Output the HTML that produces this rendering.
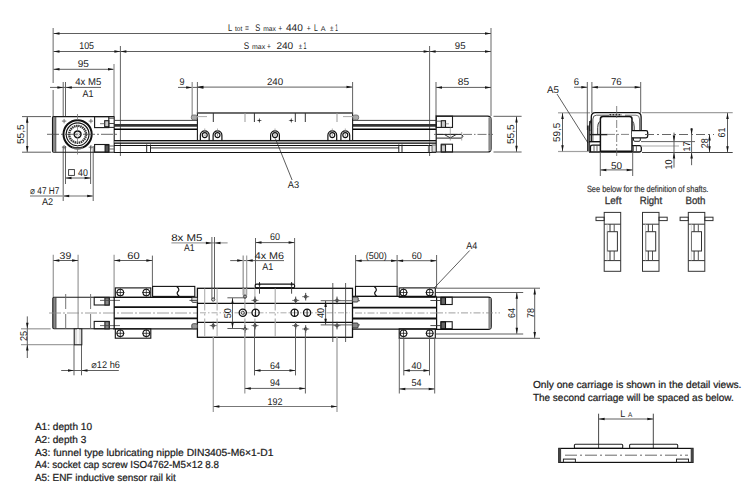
<!DOCTYPE html>
<html><head><meta charset="utf-8"><style>
html,body{margin:0;padding:0;background:#fff;}
svg{display:block;text-rendering:geometricPrecision;}
</style></head><body>
<svg width="750" height="491" viewBox="0 0 750 491" font-family="Liberation Sans, sans-serif">
<rect width="750" height="491" fill="#fff"/>
<line x1="53.2" y1="28" x2="53.2" y2="83" stroke="#a0a0a0" stroke-width="1.6"/>
<line x1="53.2" y1="90" x2="53.2" y2="117" stroke="#a0a0a0" stroke-width="1.6"/>
<line x1="491" y1="28" x2="491" y2="116" stroke="#a0a0a0" stroke-width="1.6"/>
<line x1="53.5" y1="33.5" x2="491" y2="33.5" stroke="#5e5e5e" stroke-width="1"/>
<polygon points="53.5,33.5 59.5,32.25 59.5,34.75" fill="#161616"/>
<polygon points="491,33.5 485,32.25 485,34.75" fill="#161616"/>
<line x1="53.5" y1="51.5" x2="120.4" y2="51.5" stroke="#5e5e5e" stroke-width="1"/>
<polygon points="53.5,51.5 59.5,50.25 59.5,52.75" fill="#161616"/>
<polygon points="120.4,51.5 114.4,50.25 114.4,52.75" fill="#161616"/>
<line x1="120.4" y1="51.5" x2="429.6" y2="51.5" stroke="#5e5e5e" stroke-width="1"/>
<polygon points="120.4,51.5 126.4,50.25 126.4,52.75" fill="#161616"/>
<polygon points="429.6,51.5 423.6,50.25 423.6,52.75" fill="#161616"/>
<line x1="429.6" y1="51.5" x2="491" y2="51.5" stroke="#5e5e5e" stroke-width="1"/>
<polygon points="429.6,51.5 435.6,50.25 435.6,52.75" fill="#161616"/>
<polygon points="491,51.5 485,50.25 485,52.75" fill="#161616"/>
<line x1="120.4" y1="46" x2="120.4" y2="156" stroke="#5a5a5a" stroke-width="0.95"/>
<line x1="429.6" y1="46" x2="429.6" y2="156" stroke="#5a5a5a" stroke-width="0.95"/>
<line x1="53.5" y1="69.3" x2="114" y2="69.3" stroke="#5e5e5e" stroke-width="1"/>
<polygon points="53.5,69.3 59.5,68.05 59.5,70.55" fill="#161616"/>
<polygon points="114,69.3 108,68.05 108,70.55" fill="#161616"/>
<line x1="114" y1="64" x2="114" y2="117" stroke="#a0a0a0" stroke-width="1.4"/>
<line x1="436" y1="87.4" x2="491" y2="87.4" stroke="#5e5e5e" stroke-width="1"/>
<polygon points="436,87.4 442,86.15 442,88.65" fill="#161616"/>
<polygon points="491,87.4 485,86.15 485,88.65" fill="#161616"/>
<line x1="436" y1="82" x2="436" y2="116" stroke="#5a5a5a" stroke-width="0.95"/>
<line x1="50" y1="87.4" x2="101" y2="87.4" stroke="#5e5e5e" stroke-width="1"/>
<polygon points="63.4,87.4 57.4,86.15 57.4,88.65" fill="#161616"/>
<polygon points="65.8,87.4 71.8,86.15 71.8,88.65" fill="#161616"/>
<line x1="63.2" y1="82" x2="63.2" y2="116" stroke="#5a5a5a" stroke-width="0.95"/>
<line x1="65.5" y1="82" x2="65.5" y2="116" stroke="#5a5a5a" stroke-width="0.95"/>
<line x1="63.2" y1="146" x2="63.2" y2="201" stroke="#5a5a5a" stroke-width="0.95"/>
<line x1="65.5" y1="146" x2="65.5" y2="184" stroke="#5a5a5a" stroke-width="0.95"/>
<line x1="90.6" y1="146" x2="90.6" y2="184" stroke="#5a5a5a" stroke-width="0.95"/>
<line x1="93.2" y1="146" x2="93.2" y2="201" stroke="#5a5a5a" stroke-width="0.95"/>
<line x1="178" y1="87.4" x2="203" y2="87.4" stroke="#5e5e5e" stroke-width="1"/>
<polygon points="192.2,87.4 186.2,86.15 186.2,88.65" fill="#161616"/>
<polygon points="197.4,87.4 203.4,86.15 203.4,88.65" fill="#161616"/>
<line x1="192.2" y1="82" x2="192.2" y2="116" stroke="#a0a0a0" stroke-width="1.4"/>
<line x1="197.4" y1="82" x2="197.4" y2="113" stroke="#5a5a5a" stroke-width="0.95"/>
<line x1="197.4" y1="87.1" x2="352.5" y2="87.1" stroke="#5e5e5e" stroke-width="1"/>
<polygon points="197.4,87.1 203.4,85.85 203.4,88.35" fill="#161616"/>
<polygon points="352.5,87.1 346.5,85.85 346.5,88.35" fill="#161616"/>
<line x1="352.6" y1="82" x2="352.6" y2="113" stroke="#5a5a5a" stroke-width="0.95"/>
<line x1="65.5" y1="178" x2="90.6" y2="178" stroke="#5e5e5e" stroke-width="1"/>
<polygon points="65.5,178 71.5,176.75 71.5,179.25" fill="#161616"/>
<polygon points="90.6,178 84.6,176.75 84.6,179.25" fill="#161616"/>
<line x1="30" y1="196" x2="93.2" y2="196" stroke="#a0a0a0" stroke-width="1.3"/>
<polygon points="63.2,196 69.2,194.75 69.2,197.25" fill="#161616"/>
<polygon points="93.2,196 87.2,194.75 87.2,197.25" fill="#161616"/>
<line x1="22" y1="116.6" x2="51" y2="116.6" stroke="#5e5e5e" stroke-width="1"/>
<line x1="22" y1="152.2" x2="51" y2="152.2" stroke="#5e5e5e" stroke-width="1"/>
<line x1="27.2" y1="116.8" x2="27.2" y2="152" stroke="#5e5e5e" stroke-width="1"/>
<polygon points="27.2,116.8 25.95,122.8 28.45,122.8" fill="#161616"/>
<polygon points="27.2,152 25.95,146 28.45,146" fill="#161616"/>
<line x1="493.5" y1="116.3" x2="521.6" y2="116.3" stroke="#5e5e5e" stroke-width="1"/>
<line x1="493.5" y1="152" x2="521.6" y2="152" stroke="#5e5e5e" stroke-width="1"/>
<line x1="516.5" y1="116.5" x2="516.5" y2="151.8" stroke="#5e5e5e" stroke-width="1"/>
<polygon points="516.5,116.5 515.25,122.5 517.75,122.5" fill="#161616"/>
<polygon points="516.5,151.8 515.25,145.8 517.75,145.8" fill="#161616"/>
<rect x="52.6" y="117.2" width="3.1" height="34.4" fill="#8a8a8a"/>
<path d="M114.2,116.6 H53.6 Q52.5,116.6 52.5,117.7 V151.1 Q52.5,152.2 53.6,152.2 H114.2 V116.6" stroke="#1a1a1a" stroke-width="1.1" fill="none"/>
<line x1="55.8" y1="116.6" x2="55.8" y2="152.2" stroke="#333" stroke-width="0.8"/>
<circle cx="77.6" cy="134.3" r="14.1" stroke="#111" stroke-width="2.0" fill="none"/>
<circle cx="77.6" cy="134.3" r="11.4" stroke="#111" stroke-width="1.1" fill="none"/>
<circle cx="77.6" cy="134.3" r="3.4" stroke="#111" stroke-width="1.5" fill="none"/>
<circle cx="77.6" cy="134.3" r="1.6" stroke="#aaa" stroke-width="0.6" fill="none"/>
<circle cx="77.6" cy="134.3" r="8.4" stroke="#333" stroke-width="2.4" fill="none" stroke-dasharray="1.5 0.6"/>
<rect x="72.5" y="147.2" width="10" height="1.2" fill="#fff"/>
<line x1="72.5" y1="147.6" x2="82.5" y2="147.6" stroke="#222" stroke-width="1"/>
<line x1="47" y1="134.3" x2="117" y2="134.3" stroke="#444" stroke-width="0.8" stroke-dasharray="12 2 2 2"/>
<line x1="77.5" y1="114" x2="77.5" y2="155" stroke="#777" stroke-width="0.8" stroke-dasharray="6 2 1.5 2"/>
<line x1="61.89999999999999" y1="121.1" x2="66.3" y2="121.1" stroke="#555" stroke-width="0.8"/>
<line x1="64.1" y1="118.89999999999999" x2="64.1" y2="123.3" stroke="#555" stroke-width="0.8"/>
<line x1="88.7" y1="121.1" x2="93.10000000000001" y2="121.1" stroke="#555" stroke-width="0.8"/>
<line x1="90.9" y1="118.89999999999999" x2="90.9" y2="123.3" stroke="#555" stroke-width="0.8"/>
<line x1="61.89999999999999" y1="147.2" x2="66.3" y2="147.2" stroke="#555" stroke-width="0.8"/>
<line x1="64.1" y1="145.0" x2="64.1" y2="149.39999999999998" stroke="#555" stroke-width="0.8"/>
<line x1="88.7" y1="147.2" x2="93.10000000000001" y2="147.2" stroke="#555" stroke-width="0.8"/>
<line x1="90.9" y1="145.0" x2="90.9" y2="149.39999999999998" stroke="#555" stroke-width="0.8"/>
<rect x="94.6" y="116.6" width="14.2" height="11" stroke="#1a1a1a" stroke-width="1.1" fill="none"/>
<rect x="104.7" y="120.7" width="4.1" height="6" stroke="#1a1a1a" stroke-width="1.1" fill="#ccc"/>
<line x1="108.8" y1="118.2" x2="114" y2="118.2" stroke="#333" stroke-width="0.9"/>
<line x1="108.8" y1="123.5" x2="114" y2="123.5" stroke="#333" stroke-width="0.9"/>
<line x1="108.8" y1="127.4" x2="114" y2="127.4" stroke="#222" stroke-width="1"/>
<line x1="100" y1="123.7" x2="104.7" y2="123.7" stroke="#555" stroke-width="0.8"/>
<rect x="94.6" y="144.5" width="14.2" height="7.6" stroke="#1a1a1a" stroke-width="1.1" fill="none"/>
<rect x="105.1" y="145" width="3.7" height="7" stroke="#1a1a1a" stroke-width="1.1" fill="#555"/>
<line x1="108.8" y1="146" x2="114" y2="146" stroke="#555" stroke-width="0.9"/>
<line x1="108.8" y1="149" x2="114" y2="149" stroke="#555" stroke-width="0.9"/>
<line x1="114" y1="120.4" x2="197.3" y2="120.4" stroke="#444" stroke-width="1"/>
<line x1="114" y1="125.4" x2="197.3" y2="125.4" stroke="#333" stroke-width="2.6"/>
<line x1="114" y1="129.3" x2="197.3" y2="129.3" stroke="#000" stroke-width="1.4"/>
<line x1="352.7" y1="120.4" x2="436" y2="120.4" stroke="#444" stroke-width="1"/>
<line x1="352.7" y1="125.4" x2="436" y2="125.4" stroke="#333" stroke-width="2.6"/>
<line x1="352.7" y1="129.3" x2="436" y2="129.3" stroke="#000" stroke-width="1.4"/>
<line x1="114" y1="140.5" x2="436" y2="140.5" stroke="#111" stroke-width="1"/>
<line x1="114" y1="141.9" x2="436" y2="141.9" stroke="#888" stroke-width="1.5"/>
<line x1="114" y1="143.3" x2="436" y2="143.3" stroke="#111" stroke-width="1"/>
<line x1="114" y1="145.5" x2="436" y2="145.5" stroke="#111" stroke-width="1"/>
<line x1="150.5" y1="147.9" x2="399" y2="147.9" stroke="#888" stroke-width="1.8"/>
<line x1="114" y1="152.5" x2="436" y2="152.5" stroke="#111" stroke-width="1.1"/>
<line x1="146.7" y1="144.5" x2="146.7" y2="152.3" stroke="#222" stroke-width="1"/>
<line x1="150.5" y1="144.5" x2="150.5" y2="152.3" stroke="#222" stroke-width="1"/>
<line x1="398.8" y1="144.5" x2="398.8" y2="152.3" stroke="#222" stroke-width="1"/>
<line x1="402" y1="144.5" x2="402" y2="152.3" stroke="#222" stroke-width="1"/>
<rect x="197.4" y="113" width="155.2" height="27.5" fill="#fff"/>
<rect x="197.4" y="113" width="155.2" height="27.5" stroke="#1a1a1a" stroke-width="1.1" fill="none"/>
<line x1="197.4" y1="112.9" x2="352.6" y2="112.9" stroke="#6a6a6a" stroke-width="1.6"/>
<line x1="213.3" y1="113" x2="213.3" y2="122" stroke="#333" stroke-width="1"/>
<line x1="245" y1="113" x2="245" y2="122" stroke="#999" stroke-width="1"/>
<line x1="254.4" y1="113" x2="254.4" y2="122" stroke="#333" stroke-width="1"/>
<line x1="295.3" y1="113" x2="295.3" y2="122" stroke="#333" stroke-width="1"/>
<line x1="305.3" y1="113" x2="305.3" y2="122" stroke="#333" stroke-width="1"/>
<line x1="337" y1="113" x2="337" y2="122" stroke="#999" stroke-width="1"/>
<path d="M259.3,117.7 L259.85,119.95 L262.1,120.5 L259.85,121.05 L259.3,123.3 L258.75,121.05 L256.5,120.5 L258.75,119.95 Z" fill="#222"/>
<path d="M291.2,117.7 L291.75,119.95 L294.0,120.5 L291.75,121.05 L291.2,123.3 L290.65,121.05 L288.4,120.5 L290.65,119.95 Z" fill="#222"/>
<rect x="191.3" y="115" width="6" height="4.8" stroke="#666" stroke-width="0.8" fill="#aaa" rx="2"/>
<rect x="352.7" y="115" width="6" height="4.8" stroke="#666" stroke-width="0.8" fill="#aaa" rx="2"/>
<line x1="197" y1="116.6" x2="207" y2="116.6" stroke="#aaa" stroke-width="1"/>
<line x1="343" y1="116.6" x2="353" y2="116.6" stroke="#aaa" stroke-width="1"/>
<path d="M200.35,141 V135.2 A4.4,4.4 0 0 1 209.15,135.2 V141" stroke="#111" stroke-width="1.2" fill="none"/>
<circle cx="204.75" cy="135.1" r="2.5" stroke="#111" stroke-width="1.15" fill="none"/>
<line x1="203.45" y1="135.1" x2="206.05" y2="135.1" stroke="#777" stroke-width="0.8"/>
<line x1="204.75" y1="128.5" x2="204.75" y2="130.6" stroke="#999" stroke-width="0.8"/>
<path d="M213.1,141 V135.2 A4.4,4.4 0 0 1 221.9,135.2 V141" stroke="#111" stroke-width="1.2" fill="none"/>
<circle cx="217.5" cy="135.1" r="2.5" stroke="#111" stroke-width="1.15" fill="none"/>
<line x1="217.5" y1="133.8" x2="217.5" y2="136.4" stroke="#777" stroke-width="0.8"/>
<line x1="217.5" y1="128.5" x2="217.5" y2="130.6" stroke="#999" stroke-width="0.8"/>
<path d="M270.6,141 V135.2 A4.4,4.4 0 0 1 279.4,135.2 V141" stroke="#111" stroke-width="1.2" fill="none"/>
<circle cx="275" cy="135.1" r="2.5" stroke="#111" stroke-width="1.15" fill="none"/>
<line x1="275" y1="133.8" x2="275" y2="136.4" stroke="#777" stroke-width="0.8"/>
<line x1="275" y1="128.5" x2="275" y2="130.6" stroke="#999" stroke-width="0.8"/>
<path d="M327.90000000000003,141 V135.2 A4.4,4.4 0 0 1 336.7,135.2 V141" stroke="#111" stroke-width="1.2" fill="none"/>
<circle cx="332.3" cy="135.1" r="2.5" stroke="#111" stroke-width="1.15" fill="none"/>
<line x1="332.3" y1="133.8" x2="332.3" y2="136.4" stroke="#777" stroke-width="0.8"/>
<line x1="332.3" y1="128.5" x2="332.3" y2="130.6" stroke="#999" stroke-width="0.8"/>
<path d="M340.90000000000003,141 V135.2 A4.4,4.4 0 0 1 349.7,135.2 V141" stroke="#111" stroke-width="1.2" fill="none"/>
<circle cx="345.3" cy="135.1" r="2.5" stroke="#111" stroke-width="1.15" fill="none"/>
<line x1="345.3" y1="133.8" x2="345.3" y2="136.4" stroke="#777" stroke-width="0.8"/>
<line x1="345.3" y1="128.5" x2="345.3" y2="130.6" stroke="#999" stroke-width="0.8"/>
<line x1="275.4" y1="138.6" x2="292.1" y2="180" stroke="#333" stroke-width="0.8"/>
<path d="M436.2,116.2 H487.5 Q491.1,116.2 491.1,119.8 V148.4 Q491.1,152 487.5,152 H436.2 Z" stroke="#1a1a1a" stroke-width="1.2" fill="none"/>
<rect x="488.4" y="117.5" width="2.8" height="33.2" fill="#8a8a8a"/>
<rect x="436.2" y="116.2" width="16.3" height="11.2" stroke="#1a1a1a" stroke-width="1.1" fill="none"/>
<rect x="441.3" y="120.7" width="4.2" height="6.7" stroke="#222" stroke-width="1.1" fill="#ccc"/>
<line x1="436.2" y1="121.2" x2="441.3" y2="121.2" stroke="#444" stroke-width="0.8"/>
<line x1="445.5" y1="123.8" x2="449" y2="123.8" stroke="#777" stroke-width="0.7"/>
<rect x="441.3" y="144.2" width="11.2" height="7.8" stroke="#1a1a1a" stroke-width="1.1" fill="none"/>
<rect x="441.3" y="144.8" width="4.2" height="7" stroke="#222" stroke-width="1.1" fill="#ccc"/>
<line x1="434" y1="134.4" x2="493" y2="134.4" stroke="#555" stroke-width="0.8" stroke-dasharray="9 2 1.5 2"/>
<path d="M436.2,134.4 H461.5 L463,136.2 L461.5,138.1 H436.2" stroke="#222" stroke-width="1" fill="none"/>
<path d="M444.5,134.6 L450.3,137.9 L456,134.6" stroke="#333" stroke-width="1" fill="none"/>
<line x1="450.3" y1="127.4" x2="450.3" y2="140.5" stroke="#888" stroke-width="0.7"/>
<line x1="461.7" y1="132" x2="461.7" y2="140.5" stroke="#888" stroke-width="0.7"/>
<line x1="428.4" y1="145" x2="428.4" y2="152.3" stroke="#444" stroke-width="0.8"/>
<rect x="432" y="145" width="4" height="7" stroke="#444" stroke-width="0.8" fill="#ddd"/>
<line x1="558" y1="112.8" x2="590" y2="112.8" stroke="#a0a0a0" stroke-width="1.2"/>
<line x1="642" y1="112.7" x2="732.7" y2="112.7" stroke="#a0a0a0" stroke-width="1.2"/>
<line x1="558" y1="151.5" x2="589" y2="151.5" stroke="#a0a0a0" stroke-width="1.2"/>
<line x1="642" y1="152.5" x2="732.7" y2="152.5" stroke="#444" stroke-width="1"/>
<line x1="562.5" y1="113" x2="562.5" y2="151.3" stroke="#5e5e5e" stroke-width="1"/>
<polygon points="562.5,113 561.25,119 563.75,119" fill="#161616"/>
<polygon points="562.5,151.3 561.25,145.3 563.75,145.3" fill="#161616"/>
<line x1="574" y1="87.2" x2="587.3" y2="87.2" stroke="#5e5e5e" stroke-width="1"/>
<polygon points="587.3,87.2 581.3,85.95 581.3,88.45" fill="#161616"/>
<line x1="587.3" y1="82" x2="587.3" y2="130" stroke="#5a5a5a" stroke-width="0.95"/>
<line x1="591.9" y1="82" x2="591.9" y2="113" stroke="#5a5a5a" stroke-width="0.95"/>
<line x1="591.9" y1="87.2" x2="640.7" y2="87.2" stroke="#5e5e5e" stroke-width="1"/>
<polygon points="591.9,87.2 597.9,85.95 597.9,88.45" fill="#161616"/>
<polygon points="640.7,87.2 634.7,85.95 634.7,88.45" fill="#161616"/>
<line x1="640.7" y1="82" x2="640.7" y2="113" stroke="#5a5a5a" stroke-width="0.95"/>
<line x1="557" y1="94" x2="588" y2="143" stroke="#333" stroke-width="0.8"/>
<path d="M591.3,141.3 V117 Q591.3,112.7 595.5,112.7 H637 Q641.1,112.7 641.1,117 V130.5" stroke="#111" stroke-width="1.3" fill="none"/>
<path d="M592.9,141 V119 Q592.9,115.2 596.5,115.2 H609" stroke="#444" stroke-width="0.9" fill="none"/>
<path d="M639.5,130.5 V119 Q639.5,115.2 636,115.2 H625" stroke="#666" stroke-width="0.9" fill="none"/>
<line x1="587.9" y1="125.6" x2="587.9" y2="151" stroke="#111" stroke-width="1.5"/>
<line x1="589.6" y1="121" x2="589.6" y2="151" stroke="#333" stroke-width="1"/>
<path d="M589.8,131 Q588.8,125 591.3,120" stroke="#222" stroke-width="1.2" fill="none"/>
<line x1="609.4" y1="114.8" x2="621.7" y2="114.8" stroke="#333" stroke-width="1.6" stroke-dasharray="2 1"/>
<path d="M600.4,151.3 V119 Q600.4,116.6 603,116.6 H629.5 Q632,116.6 632,119 V151.3 Z" stroke="#111" stroke-width="1.5" fill="#fff"/>
<path d="M599.5,121.5 Q597.7,123.5 597.7,127.5 V134" stroke="#333" stroke-width="1" fill="none"/>
<path d="M632.5,121 Q634.2,123 634.2,127 V133" stroke="#333" stroke-width="1" fill="none"/>
<path d="M632,130.7 H646 Q647.7,130.7 647.7,132.5 V136 Q647.7,137.8 646,137.8 H632" stroke="#111" stroke-width="1.3" fill="#fff"/>
<path d="M633.5,137.8 V140 Q633.5,141.3 635,141.3 H639 Q640.3,141.3 640.3,140 V137.8" stroke="#222" stroke-width="1" fill="none"/>
<line x1="589" y1="141.7" x2="600.4" y2="141.7" stroke="#111" stroke-width="1.4"/>
<path d="M590.5,152 V147 Q590.5,145.2 592.5,145.2 H600.4" stroke="#111" stroke-width="1.2" fill="none"/>
<path d="M632,145.7 H639.5 Q641.3,145.7 641.3,147.5 V150.3 Q641.3,152 639.5,152 H589" stroke="#111" stroke-width="1.3" fill="none"/>
<line x1="633.5" y1="145.7" x2="633.5" y2="152" stroke="#444" stroke-width="0.8"/>
<line x1="636.4" y1="145.7" x2="636.4" y2="152" stroke="#444" stroke-width="0.8"/>
<line x1="594" y1="145.2" x2="594" y2="152" stroke="#444" stroke-width="0.8"/>
<line x1="597" y1="145.2" x2="597" y2="152" stroke="#444" stroke-width="0.8"/>
<line x1="616.7" y1="106" x2="616.7" y2="158" stroke="#666" stroke-width="0.8" stroke-dasharray="8 2 2 2"/>
<line x1="589.4" y1="134.6" x2="607.4" y2="134.6" stroke="#222" stroke-width="1.4"/>
<line x1="607" y1="134.4" x2="632" y2="134.4" stroke="#666" stroke-width="0.8" stroke-dasharray="8 2 2 2"/>
<line x1="645" y1="134.5" x2="714" y2="134.5" stroke="#555" stroke-width="0.9" stroke-dasharray="9 3 2 3"/>
<line x1="641" y1="141.6" x2="695" y2="141.6" stroke="#5a5a5a" stroke-width="0.95"/>
<line x1="641" y1="146" x2="679" y2="146" stroke="#aaa" stroke-width="1.2"/>
<line x1="600.3" y1="152" x2="600.3" y2="176" stroke="#5a5a5a" stroke-width="0.95"/>
<line x1="632.7" y1="152" x2="632.7" y2="176" stroke="#5a5a5a" stroke-width="0.95"/>
<line x1="600.3" y1="169.9" x2="632.7" y2="169.9" stroke="#5e5e5e" stroke-width="1"/>
<polygon points="600.3,169.9 606.3,168.65 606.3,171.15" fill="#161616"/>
<polygon points="632.7,169.9 626.7,168.65 626.7,171.15" fill="#161616"/>
<line x1="674" y1="132.6" x2="674" y2="167.6" stroke="#5e5e5e" stroke-width="1"/>
<polygon points="674,141.6 672.75,135.6 675.25,135.6" fill="#161616"/>
<polygon points="674,152.5 672.75,158.5 675.25,158.5" fill="#161616"/>
<line x1="691.6" y1="128" x2="691.6" y2="165.2" stroke="#5e5e5e" stroke-width="1"/>
<polygon points="691.6,134.5 690.35,128.5 692.85,128.5" fill="#161616"/>
<polygon points="691.6,152.5 690.35,158.5 692.85,158.5" fill="#161616"/>
<line x1="709.5" y1="134.5" x2="709.5" y2="152.3" stroke="#5e5e5e" stroke-width="1"/>
<polygon points="709.5,134.5 708.25,140.5 710.75,140.5" fill="#161616"/>
<polygon points="709.5,152.3 708.25,146.3 710.75,146.3" fill="#161616"/>
<line x1="727.5" y1="112.9" x2="727.5" y2="152.3" stroke="#5e5e5e" stroke-width="1"/>
<polygon points="727.5,112.9 726.25,118.9 728.75,118.9" fill="#161616"/>
<polygon points="727.5,152.3 726.25,146.3 728.75,146.3" fill="#161616"/>
<rect x="604.2" y="212.4" width="16.5" height="58.9" stroke="#333" stroke-width="1" fill="none"/>
<line x1="604.2" y1="224.2" x2="620.7" y2="224.2" stroke="#333" stroke-width="1"/>
<line x1="604.2" y1="260.6" x2="620.7" y2="260.6" stroke="#333" stroke-width="1"/>
<line x1="610.0" y1="224.2" x2="610.0" y2="231.7" stroke="#333" stroke-width="1"/>
<line x1="614.2" y1="224.2" x2="614.2" y2="231.7" stroke="#555" stroke-width="1"/>
<line x1="610.0" y1="251" x2="610.0" y2="260.6" stroke="#333" stroke-width="1"/>
<line x1="614.2" y1="251" x2="614.2" y2="260.6" stroke="#555" stroke-width="1"/>
<rect x="607.4000000000001" y="231.7" width="10" height="19.3" stroke="#333" stroke-width="1" fill="none"/>
<line x1="607.2" y1="224" x2="607.2" y2="260.6" stroke="#bbb" stroke-width="0.6"/>
<rect x="596.0" y="217.2" width="8.2" height="3.4" stroke="#333" stroke-width="1" fill="none"/>
<rect x="642.5" y="212.4" width="16.5" height="58.9" stroke="#333" stroke-width="1" fill="none"/>
<line x1="642.5" y1="224.2" x2="659.0" y2="224.2" stroke="#333" stroke-width="1"/>
<line x1="642.5" y1="260.6" x2="659.0" y2="260.6" stroke="#333" stroke-width="1"/>
<line x1="648.3" y1="224.2" x2="648.3" y2="231.7" stroke="#333" stroke-width="1"/>
<line x1="652.5" y1="224.2" x2="652.5" y2="231.7" stroke="#555" stroke-width="1"/>
<line x1="648.3" y1="251" x2="648.3" y2="260.6" stroke="#333" stroke-width="1"/>
<line x1="652.5" y1="251" x2="652.5" y2="260.6" stroke="#555" stroke-width="1"/>
<rect x="645.7" y="231.7" width="10" height="19.3" stroke="#333" stroke-width="1" fill="none"/>
<line x1="645.5" y1="224" x2="645.5" y2="260.6" stroke="#bbb" stroke-width="0.6"/>
<rect x="659.0" y="217.2" width="8.2" height="3.4" stroke="#333" stroke-width="1" fill="none"/>
<rect x="688.3" y="212.4" width="16.5" height="58.9" stroke="#333" stroke-width="1" fill="none"/>
<line x1="688.3" y1="224.2" x2="704.8" y2="224.2" stroke="#333" stroke-width="1"/>
<line x1="688.3" y1="260.6" x2="704.8" y2="260.6" stroke="#333" stroke-width="1"/>
<line x1="694.0999999999999" y1="224.2" x2="694.0999999999999" y2="231.7" stroke="#333" stroke-width="1"/>
<line x1="698.3" y1="224.2" x2="698.3" y2="231.7" stroke="#555" stroke-width="1"/>
<line x1="694.0999999999999" y1="251" x2="694.0999999999999" y2="260.6" stroke="#333" stroke-width="1"/>
<line x1="698.3" y1="251" x2="698.3" y2="260.6" stroke="#555" stroke-width="1"/>
<rect x="691.5" y="231.7" width="10" height="19.3" stroke="#333" stroke-width="1" fill="none"/>
<line x1="691.3" y1="224" x2="691.3" y2="260.6" stroke="#bbb" stroke-width="0.6"/>
<rect x="680.0999999999999" y="217.2" width="8.2" height="3.4" stroke="#333" stroke-width="1" fill="none"/>
<rect x="704.8" y="217.2" width="8.2" height="3.4" stroke="#333" stroke-width="1" fill="none"/>
<line x1="53.3" y1="254.7" x2="53.3" y2="297" stroke="#a0a0a0" stroke-width="1.3"/>
<line x1="78.1" y1="254.7" x2="78.1" y2="345" stroke="#a0a0a0" stroke-width="1.3"/>
<line x1="53.3" y1="260.5" x2="78.1" y2="260.5" stroke="#5e5e5e" stroke-width="1"/>
<polygon points="53.3,260.5 59.3,259.25 59.3,261.75" fill="#161616"/>
<polygon points="78.1,260.5 72.1,259.25 72.1,261.75" fill="#161616"/>
<line x1="114.1" y1="254.7" x2="114.1" y2="297" stroke="#a0a0a0" stroke-width="1.3"/>
<line x1="152.4" y1="255.6" x2="152.4" y2="286" stroke="#5a5a5a" stroke-width="0.95"/>
<line x1="114.1" y1="260.5" x2="152.4" y2="260.5" stroke="#5e5e5e" stroke-width="1"/>
<polygon points="114.1,260.5 120.1,259.25 120.1,261.75" fill="#161616"/>
<polygon points="152.4,260.5 146.4,259.25 146.4,261.75" fill="#161616"/>
<line x1="171.4" y1="242.9" x2="227.6" y2="242.9" stroke="#a0a0a0" stroke-width="1.3"/>
<polygon points="211.9,242.9 205.9,241.65 205.9,244.15" fill="#161616"/>
<polygon points="214.5,242.9 220.5,241.65 220.5,244.15" fill="#161616"/>
<line x1="211.9" y1="237" x2="211.9" y2="300" stroke="#5a5a5a" stroke-width="0.95"/>
<line x1="214.5" y1="237" x2="214.5" y2="300" stroke="#5a5a5a" stroke-width="0.95"/>
<line x1="255.5" y1="238" x2="255.5" y2="284" stroke="#5a5a5a" stroke-width="0.95"/>
<line x1="294.6" y1="238" x2="294.6" y2="284" stroke="#5a5a5a" stroke-width="0.95"/>
<line x1="255.5" y1="242.6" x2="294.6" y2="242.6" stroke="#5e5e5e" stroke-width="1"/>
<polygon points="255.5,242.6 261.5,241.35 261.5,243.85" fill="#161616"/>
<polygon points="294.6,242.6 288.6,241.35 288.6,243.85" fill="#161616"/>
<line x1="230.2" y1="260.6" x2="284" y2="260.6" stroke="#5e5e5e" stroke-width="1"/>
<polygon points="243.2,260.6 237.2,259.35 237.2,261.85" fill="#161616"/>
<polygon points="246.7,260.6 252.7,259.35 252.7,261.85" fill="#161616"/>
<line x1="243.2" y1="255.6" x2="243.2" y2="295.5" stroke="#a0a0a0" stroke-width="1.4"/>
<line x1="246.7" y1="255.6" x2="246.7" y2="295.5" stroke="#999" stroke-width="1.1"/>
<line x1="355.6" y1="255" x2="355.6" y2="286.5" stroke="#5a5a5a" stroke-width="0.95"/>
<line x1="397.1" y1="255" x2="397.1" y2="287" stroke="#5a5a5a" stroke-width="0.95"/>
<line x1="436.6" y1="255" x2="436.6" y2="288" stroke="#5a5a5a" stroke-width="0.95"/>
<line x1="355.6" y1="260.7" x2="397.1" y2="260.7" stroke="#5e5e5e" stroke-width="1"/>
<polygon points="355.6,260.7 361.6,259.45 361.6,261.95" fill="#161616"/>
<polygon points="397.1,260.7 391.1,259.45 391.1,261.95" fill="#161616"/>
<line x1="397.1" y1="260.7" x2="436.6" y2="260.7" stroke="#5e5e5e" stroke-width="1"/>
<polygon points="397.1,260.7 403.1,259.45 403.1,261.95" fill="#161616"/>
<polygon points="436.6,260.7 430.6,259.45 430.6,261.95" fill="#161616"/>
<line x1="469.7" y1="250.5" x2="434" y2="288.2" stroke="#333" stroke-width="0.8"/>
<line x1="21" y1="328.8" x2="50.7" y2="328.8" stroke="#a0a0a0" stroke-width="1.3"/>
<line x1="21" y1="344.6" x2="73" y2="344.6" stroke="#a0a0a0" stroke-width="1.3"/>
<line x1="27.3" y1="316.4" x2="27.3" y2="358" stroke="#5e5e5e" stroke-width="1"/>
<polygon points="27.3,328.7 26.05,322.7 28.55,322.7" fill="#161616"/>
<polygon points="27.3,344.5 26.05,350.5 28.55,350.5" fill="#161616"/>
<line x1="61.2" y1="370.5" x2="118.8" y2="370.5" stroke="#5e5e5e" stroke-width="1"/>
<polygon points="74,370.5 68,369.25 68,371.75" fill="#161616"/>
<polygon points="81.5,370.5 87.5,369.25 87.5,371.75" fill="#161616"/>
<line x1="74" y1="344" x2="74" y2="375.3" stroke="#5a5a5a" stroke-width="0.95"/>
<line x1="81.5" y1="344" x2="81.5" y2="375.3" stroke="#5a5a5a" stroke-width="0.95"/>
<rect x="52.9" y="297.9" width="3.1" height="30.2" fill="#8a8a8a"/>
<path d="M114.2,297.3 H53.9 Q52.8,297.3 52.8,298.4 V327.6 Q52.8,328.7 53.9,328.7 H114.2" stroke="#1a1a1a" stroke-width="1.1" fill="none"/>
<line x1="56" y1="297.3" x2="56" y2="328.7" stroke="#333" stroke-width="0.8"/>
<line x1="65.7" y1="294" x2="65.7" y2="332" stroke="#666" stroke-width="0.9" stroke-dasharray="15 5"/>
<line x1="90.6" y1="294" x2="90.6" y2="332" stroke="#666" stroke-width="0.9" stroke-dasharray="15 5"/>
<rect x="94.2" y="297.3" width="15" height="7.7" stroke="#1a1a1a" stroke-width="1.1" fill="none"/>
<rect x="104.9" y="297.8" width="4.3" height="7.2" stroke="#222" stroke-width="1.1" fill="#888"/>
<rect x="94.2" y="321.4" width="15" height="7.4" stroke="#1a1a1a" stroke-width="1.1" fill="none"/>
<rect x="104.9" y="321.6" width="4.3" height="7.2" stroke="#222" stroke-width="1.1" fill="#888"/>
<line x1="100" y1="300.4" x2="120" y2="300.4" stroke="#444" stroke-width="0.8"/>
<line x1="100" y1="325.6" x2="120" y2="325.6" stroke="#444" stroke-width="0.8"/>
<rect x="74.2" y="328.8" width="7.6" height="16" stroke="#222" stroke-width="1.1" fill="#ddd"/>
<line x1="78" y1="329" x2="78" y2="344" stroke="#fff" stroke-width="1.5"/>
<line x1="49" y1="313" x2="200" y2="313" stroke="#888" stroke-width="0.8" stroke-dasharray="12 2 2 2"/>
<line x1="113.3" y1="297.3" x2="197.7" y2="297.3" stroke="#111" stroke-width="1.2"/>
<line x1="352.5" y1="296.3" x2="436.6" y2="296.3" stroke="#111" stroke-width="1.2"/>
<line x1="114.2" y1="307.2" x2="197.7" y2="307.2" stroke="#111" stroke-width="1.8"/>
<line x1="352.5" y1="307.6" x2="436.6" y2="307.6" stroke="#111" stroke-width="1.8"/>
<line x1="114.2" y1="318.4" x2="197.7" y2="318.4" stroke="#111" stroke-width="1.8"/>
<line x1="352.5" y1="318.5" x2="436.6" y2="318.5" stroke="#111" stroke-width="1.8"/>
<line x1="113.3" y1="328.8" x2="197.7" y2="328.8" stroke="#111" stroke-width="1.2"/>
<line x1="352.5" y1="329.2" x2="436.6" y2="329.2" stroke="#111" stroke-width="1.2"/>
<line x1="114.2" y1="297.3" x2="114.2" y2="328.8" stroke="#111" stroke-width="1.2"/>
<line x1="355" y1="313" x2="436" y2="313" stroke="#888" stroke-width="0.8" stroke-dasharray="7 2 1.5 2"/>
<rect x="115.3" y="287.9" width="35.500000000000014" height="9.4" stroke="#111" stroke-width="1.1" fill="none"/>
<rect x="115.3" y="328.8" width="35.500000000000014" height="9.4" stroke="#111" stroke-width="1.1" fill="none"/>
<rect x="399.2" y="287.9" width="36.10000000000002" height="9.4" stroke="#111" stroke-width="1.1" fill="none"/>
<rect x="399.2" y="328.8" width="36.10000000000002" height="9.4" stroke="#111" stroke-width="1.1" fill="none"/>
<circle cx="120.3" cy="292.5" r="3.3" stroke="#111" stroke-width="1.1" fill="none"/>
<line x1="116.1" y1="292.5" x2="124.5" y2="292.5" stroke="#222" stroke-width="0.8"/>
<line x1="120.3" y1="288.3" x2="120.3" y2="296.7" stroke="#222" stroke-width="0.8"/>
<circle cx="120.3" cy="333.3" r="3.3" stroke="#111" stroke-width="1.1" fill="none"/>
<line x1="116.1" y1="333.3" x2="124.5" y2="333.3" stroke="#222" stroke-width="0.8"/>
<line x1="120.3" y1="329.1" x2="120.3" y2="337.5" stroke="#222" stroke-width="0.8"/>
<circle cx="146.3" cy="292.5" r="3.3" stroke="#111" stroke-width="1.1" fill="none"/>
<line x1="142.10000000000002" y1="292.5" x2="150.5" y2="292.5" stroke="#222" stroke-width="0.8"/>
<line x1="146.3" y1="288.3" x2="146.3" y2="296.7" stroke="#222" stroke-width="0.8"/>
<circle cx="146.3" cy="333.3" r="3.3" stroke="#111" stroke-width="1.1" fill="none"/>
<line x1="142.10000000000002" y1="333.3" x2="150.5" y2="333.3" stroke="#222" stroke-width="0.8"/>
<line x1="146.3" y1="329.1" x2="146.3" y2="337.5" stroke="#222" stroke-width="0.8"/>
<circle cx="403.5" cy="292.5" r="3.3" stroke="#111" stroke-width="1.1" fill="none"/>
<line x1="399.3" y1="292.5" x2="407.7" y2="292.5" stroke="#222" stroke-width="0.8"/>
<line x1="403.5" y1="288.3" x2="403.5" y2="296.7" stroke="#222" stroke-width="0.8"/>
<circle cx="403.5" cy="333.3" r="3.3" stroke="#111" stroke-width="1.1" fill="none"/>
<line x1="399.3" y1="333.3" x2="407.7" y2="333.3" stroke="#222" stroke-width="0.8"/>
<line x1="403.5" y1="329.1" x2="403.5" y2="337.5" stroke="#222" stroke-width="0.8"/>
<circle cx="429.7" cy="292.5" r="3.3" stroke="#111" stroke-width="1.1" fill="none"/>
<line x1="425.5" y1="292.5" x2="433.9" y2="292.5" stroke="#222" stroke-width="0.8"/>
<line x1="429.7" y1="288.3" x2="429.7" y2="296.7" stroke="#222" stroke-width="0.8"/>
<circle cx="429.7" cy="333.3" r="3.3" stroke="#111" stroke-width="1.1" fill="none"/>
<line x1="425.5" y1="333.3" x2="433.9" y2="333.3" stroke="#222" stroke-width="0.8"/>
<line x1="429.7" y1="329.1" x2="429.7" y2="337.5" stroke="#222" stroke-width="0.8"/>
<rect x="152.6" y="286.4" width="42.20000000000002" height="10" stroke="#111" stroke-width="1.1" fill="none"/>
<path d="M176.8,286.8 C179.2,288.3 179.3,290.3 178,291.5 C176.7,292.7 176.8,294.7 179.2,296.2" stroke="#111" stroke-width="1.2" fill="none"/>
<rect x="355.5" y="286.4" width="41.60000000000002" height="10" stroke="#111" stroke-width="1.1" fill="none"/>
<path d="M374.3,286.8 C376.7,288.3 376.8,290.3 375.5,291.5 C374.2,292.7 374.3,294.7 376.7,296.2" stroke="#111" stroke-width="1.2" fill="none"/>
<rect x="197.4" y="288.3" width="155.1" height="49" stroke="#111" stroke-width="1.3" fill="#fff"/>
<line x1="197.4" y1="303.4" x2="352.5" y2="303.4" stroke="#111" stroke-width="1.4"/>
<line x1="197.4" y1="322.4" x2="352.5" y2="322.4" stroke="#111" stroke-width="1.4"/>
<line x1="200" y1="312.8" x2="350" y2="312.8" stroke="#999" stroke-width="0.8" stroke-dasharray="6 2 1.5 2"/>
<rect x="255.2" y="284.1" width="39.4" height="3.8" stroke="#111" stroke-width="1.2" fill="#fff" rx="1.5"/>
<line x1="256" y1="288" x2="294" y2="288" stroke="#111" stroke-width="1.6"/>
<line x1="259.5" y1="282" x2="259.5" y2="293.7" stroke="#333" stroke-width="0.9"/>
<polygon points="259.5,282.2 258.3,285.2 260.7,285.2" fill="#161616"/>
<line x1="291.6" y1="282" x2="291.6" y2="293.7" stroke="#333" stroke-width="0.9"/>
<polygon points="291.6,282.2 290.40000000000003,285.2 292.8,285.2" fill="#161616"/>
<line x1="204.7" y1="288.5" x2="204.7" y2="337" stroke="#b0b0b0" stroke-width="1.1" stroke-dasharray="22 3 2 3"/>
<line x1="217.1" y1="288.5" x2="217.1" y2="337" stroke="#b0b0b0" stroke-width="1.1" stroke-dasharray="22 3 2 3"/>
<line x1="244.9" y1="288.5" x2="244.9" y2="337" stroke="#a8a8a8" stroke-width="1.1" stroke-dasharray="22 3 2 3"/>
<line x1="254.9" y1="288.5" x2="254.9" y2="337" stroke="#b0b0b0" stroke-width="1.1" stroke-dasharray="22 3 2 3"/>
<line x1="275.2" y1="288.5" x2="275.2" y2="337" stroke="#a8a8a8" stroke-width="1.1" stroke-dasharray="22 3 2 3"/>
<line x1="332.8" y1="283" x2="332.8" y2="342" stroke="#333" stroke-width="0.8"/>
<line x1="345.6" y1="283" x2="345.6" y2="342" stroke="#333" stroke-width="0.8"/>
<circle cx="242.8" cy="312.8" r="3.6" stroke="#111" stroke-width="1.3" fill="none"/>
<circle cx="255.6" cy="312.8" r="3.6" stroke="#111" stroke-width="1.3" fill="none"/>
<circle cx="294.6" cy="312.8" r="3.6" stroke="#111" stroke-width="1.3" fill="none"/>
<circle cx="307.1" cy="312.8" r="3.6" stroke="#111" stroke-width="1.3" fill="none"/>
<line x1="255.6" y1="309" x2="255.6" y2="316.6" stroke="#111" stroke-width="1"/>
<line x1="294.6" y1="309" x2="294.6" y2="316.6" stroke="#111" stroke-width="1"/>
<line x1="307.1" y1="309" x2="307.1" y2="316.6" stroke="#111" stroke-width="1"/>
<circle cx="242.8" cy="312.8" r="1.6" stroke="#333" stroke-width="0.9" fill="none"/>
<line x1="211.9" y1="288" x2="211.9" y2="298.5" stroke="#5a5a5a" stroke-width="0.95"/>
<line x1="214.5" y1="288" x2="214.5" y2="298.5" stroke="#5a5a5a" stroke-width="0.95"/>
<line x1="243.2" y1="288" x2="243.2" y2="295.3" stroke="#a0a0a0" stroke-width="1.4"/>
<line x1="246.7" y1="288" x2="246.7" y2="295.3" stroke="#999" stroke-width="1.1"/>
<circle cx="213.2" cy="299.5" r="1.6" stroke="#333" stroke-width="1" fill="none"/>
<line x1="212.0" y1="299.0" x2="214.39999999999998" y2="299.0" stroke="#555" stroke-width="0.6"/>
<circle cx="245" cy="296.6" r="1.6" stroke="#333" stroke-width="1" fill="none"/>
<line x1="243.8" y1="296.1" x2="246.2" y2="296.1" stroke="#555" stroke-width="0.6"/>
<line x1="251.5" y1="300.4" x2="258.5" y2="300.4" stroke="#555" stroke-width="0.8"/>
<line x1="255" y1="296.59999999999997" x2="255" y2="304.2" stroke="#333" stroke-width="0.9"/>
<circle cx="255" cy="300.4" r="1.4" stroke="#333" stroke-width="0.9" fill="none"/>
<line x1="292.2" y1="300.4" x2="299.2" y2="300.4" stroke="#555" stroke-width="0.8"/>
<line x1="295.7" y1="296.59999999999997" x2="295.7" y2="304.2" stroke="#333" stroke-width="0.9"/>
<circle cx="295.7" cy="300.4" r="1.4" stroke="#333" stroke-width="0.9" fill="none"/>
<line x1="302.2" y1="296.7" x2="309.2" y2="296.7" stroke="#555" stroke-width="0.8"/>
<line x1="305.7" y1="292.9" x2="305.7" y2="300.5" stroke="#333" stroke-width="0.9"/>
<circle cx="305.7" cy="296.7" r="1.4" stroke="#333" stroke-width="0.9" fill="none"/>
<line x1="333.5" y1="300.4" x2="340.5" y2="300.4" stroke="#555" stroke-width="0.8"/>
<line x1="337" y1="296.59999999999997" x2="337" y2="304.2" stroke="#333" stroke-width="0.9"/>
<circle cx="337" cy="300.4" r="1.4" stroke="#333" stroke-width="0.9" fill="none"/>
<line x1="209.7" y1="325.6" x2="216.7" y2="325.6" stroke="#555" stroke-width="0.8"/>
<line x1="213.2" y1="321.8" x2="213.2" y2="329.40000000000003" stroke="#333" stroke-width="0.9"/>
<circle cx="213.2" cy="325.6" r="1.4" stroke="#333" stroke-width="0.9" fill="none"/>
<line x1="241.5" y1="329" x2="248.5" y2="329" stroke="#555" stroke-width="0.8"/>
<line x1="245" y1="325.2" x2="245" y2="332.8" stroke="#333" stroke-width="0.9"/>
<circle cx="245" cy="329" r="1.4" stroke="#333" stroke-width="0.9" fill="none"/>
<line x1="251.5" y1="325.6" x2="258.5" y2="325.6" stroke="#555" stroke-width="0.8"/>
<line x1="255" y1="321.8" x2="255" y2="329.40000000000003" stroke="#333" stroke-width="0.9"/>
<circle cx="255" cy="325.6" r="1.4" stroke="#333" stroke-width="0.9" fill="none"/>
<line x1="292.2" y1="325.6" x2="299.2" y2="325.6" stroke="#555" stroke-width="0.8"/>
<line x1="295.7" y1="321.8" x2="295.7" y2="329.40000000000003" stroke="#333" stroke-width="0.9"/>
<circle cx="295.7" cy="325.6" r="1.4" stroke="#333" stroke-width="0.9" fill="none"/>
<line x1="302.2" y1="329" x2="309.2" y2="329" stroke="#555" stroke-width="0.8"/>
<line x1="305.7" y1="325.2" x2="305.7" y2="332.8" stroke="#333" stroke-width="0.9"/>
<circle cx="305.7" cy="329" r="1.4" stroke="#333" stroke-width="0.9" fill="none"/>
<line x1="333.5" y1="325.6" x2="340.5" y2="325.6" stroke="#555" stroke-width="0.8"/>
<line x1="337" y1="321.8" x2="337" y2="329.40000000000003" stroke="#333" stroke-width="0.9"/>
<circle cx="337" cy="325.6" r="1.4" stroke="#333" stroke-width="0.9" fill="none"/>
<line x1="227.4" y1="297.8" x2="246" y2="297.8" stroke="#5e5e5e" stroke-width="1"/>
<line x1="227.4" y1="328.5" x2="246" y2="328.5" stroke="#5e5e5e" stroke-width="1"/>
<line x1="232.5" y1="298" x2="232.5" y2="328.3" stroke="#5e5e5e" stroke-width="1"/>
<polygon points="232.5,298 231.25,304 233.75,304" fill="#161616"/>
<polygon points="232.5,328.3 231.25,322.3 233.75,322.3" fill="#161616"/>
<line x1="320.7" y1="300.7" x2="360" y2="300.7" stroke="#5e5e5e" stroke-width="1"/>
<line x1="320.7" y1="324.9" x2="360" y2="324.9" stroke="#5e5e5e" stroke-width="1"/>
<line x1="325.6" y1="301" x2="325.6" y2="324.7" stroke="#5e5e5e" stroke-width="1"/>
<polygon points="325.6,301 324.35,307 326.85,307" fill="#161616"/>
<polygon points="325.6,324.7 324.35,318.7 326.85,318.7" fill="#161616"/>
<rect x="191.8" y="297.4" width="5.6" height="5" stroke="#333" stroke-width="0.9" fill="#e0e0e0" rx="1.2"/>
<line x1="189.5" y1="300.4" x2="197" y2="300.4" stroke="#333" stroke-width="0.9"/>
<rect x="191.8" y="323.7" width="5.6" height="5" stroke="#444" stroke-width="0.9" fill="#999" rx="1.5"/>
<rect x="352.6" y="297" width="5.6" height="5" stroke="#333" stroke-width="0.9" fill="#aaa" rx="1.2"/>
<rect x="352.6" y="323" width="5.6" height="5" stroke="#333" stroke-width="0.9" fill="#888" rx="1.2"/>
<path d="M436.6,297.1 H488 Q491.4,297.1 491.4,300.5 V326 Q491.4,329.4 488,329.4 H436.6 Z" stroke="#111" stroke-width="1.2" fill="#fff"/>
<rect x="488.4" y="298" width="3" height="30.5" fill="#8a8a8a"/>
<rect x="441" y="297.2" width="11.2" height="7.3" stroke="#1a1a1a" stroke-width="1.1" fill="none"/>
<rect x="441" y="297.6" width="4.5" height="6.9" stroke="#111" stroke-width="1.1" fill="#666"/>
<rect x="441" y="321.7" width="11.2" height="7" stroke="#1a1a1a" stroke-width="1.1" fill="none"/>
<rect x="441" y="322" width="4.5" height="6.7" stroke="#111" stroke-width="1.1" fill="#666"/>
<line x1="430.4" y1="300.5" x2="441" y2="300.5" stroke="#333" stroke-width="0.9"/>
<line x1="430.4" y1="325.6" x2="441" y2="325.6" stroke="#333" stroke-width="0.9"/>
<line x1="436" y1="312.9" x2="500" y2="312.9" stroke="#888" stroke-width="0.8" stroke-dasharray="7 2 1.5 2"/>
<line x1="436" y1="292.5" x2="523.2" y2="292.5" stroke="#5e5e5e" stroke-width="1"/>
<line x1="436" y1="334" x2="523.2" y2="334" stroke="#5e5e5e" stroke-width="1"/>
<line x1="516.8" y1="292.7" x2="516.8" y2="333.8" stroke="#5e5e5e" stroke-width="1"/>
<polygon points="516.8,292.7 515.55,298.7 518.05,298.7" fill="#161616"/>
<polygon points="516.8,333.8 515.55,327.8 518.05,327.8" fill="#161616"/>
<line x1="436" y1="288.2" x2="540" y2="288.2" stroke="#5e5e5e" stroke-width="1"/>
<line x1="436" y1="338.3" x2="540" y2="338.3" stroke="#5e5e5e" stroke-width="1"/>
<line x1="534.7" y1="288.4" x2="534.7" y2="338.1" stroke="#5e5e5e" stroke-width="1"/>
<polygon points="534.7,288.4 533.45,294.4 535.95,294.4" fill="#161616"/>
<polygon points="534.7,338.1 533.45,332.1 535.95,332.1" fill="#161616"/>
<line x1="213.3" y1="337" x2="213.3" y2="412" stroke="#a0a0a0" stroke-width="1.3"/>
<line x1="337" y1="337" x2="337" y2="412" stroke="#a0a0a0" stroke-width="1.3"/>
<line x1="213.4" y1="406.5" x2="337.1" y2="406.5" stroke="#777" stroke-width="1.1"/>
<polygon points="213.4,406.5 219.4,405.25 219.4,407.75" fill="#161616"/>
<polygon points="337.1,406.5 331.1,405.25 331.1,407.75" fill="#161616"/>
<line x1="254.5" y1="322" x2="254.5" y2="375.4" stroke="#5a5a5a" stroke-width="0.95"/>
<line x1="295.5" y1="322" x2="295.5" y2="375.4" stroke="#5a5a5a" stroke-width="0.95"/>
<line x1="254.5" y1="370.5" x2="295.5" y2="370.5" stroke="#5e5e5e" stroke-width="1"/>
<polygon points="254.5,370.5 260.5,369.25 260.5,371.75" fill="#161616"/>
<polygon points="295.5,370.5 289.5,369.25 289.5,371.75" fill="#161616"/>
<line x1="244.8" y1="329" x2="244.8" y2="393.5" stroke="#a0a0a0" stroke-width="1.3"/>
<line x1="305.4" y1="329" x2="305.4" y2="393.5" stroke="#5a5a5a" stroke-width="0.95"/>
<line x1="244.8" y1="388.4" x2="305.4" y2="388.4" stroke="#5e5e5e" stroke-width="1"/>
<polygon points="244.8,388.4 250.8,387.15 250.8,389.65" fill="#161616"/>
<polygon points="305.4,388.4 299.4,387.15 299.4,389.65" fill="#161616"/>
<line x1="403.8" y1="338" x2="403.8" y2="375.4" stroke="#5a5a5a" stroke-width="0.95"/>
<line x1="429.5" y1="338" x2="429.5" y2="375.4" stroke="#5a5a5a" stroke-width="0.95"/>
<line x1="403.8" y1="370.6" x2="429.5" y2="370.6" stroke="#5e5e5e" stroke-width="1"/>
<polygon points="403.8,370.6 409.8,369.35 409.8,371.85" fill="#161616"/>
<polygon points="429.5,370.6 423.5,369.35 423.5,371.85" fill="#161616"/>
<line x1="399.3" y1="338" x2="399.3" y2="393.5" stroke="#5a5a5a" stroke-width="0.95"/>
<line x1="434.7" y1="338" x2="434.7" y2="393.5" stroke="#5a5a5a" stroke-width="0.95"/>
<line x1="399.3" y1="388.9" x2="434.7" y2="388.9" stroke="#5e5e5e" stroke-width="1"/>
<polygon points="399.3,388.9 405.3,387.65 405.3,390.15" fill="#161616"/>
<polygon points="434.7,388.9 428.7,387.65 428.7,390.15" fill="#161616"/>
<line x1="598.6" y1="413.7" x2="598.6" y2="448.4" stroke="#333" stroke-width="0.9"/>
<line x1="653.3" y1="413.7" x2="653.3" y2="448.4" stroke="#333" stroke-width="0.9"/>
<line x1="598.6" y1="419" x2="653.3" y2="419" stroke="#5e5e5e" stroke-width="1"/>
<polygon points="598.6,419 604.6,417.75 604.6,420.25" fill="#161616"/>
<polygon points="653.3,419 647.3,417.75 647.3,420.25" fill="#161616"/>
<rect x="574.4" y="444.3" width="48.3" height="4.1" stroke="#222" stroke-width="1.1" fill="none" rx="1"/>
<rect x="629.6" y="444.3" width="48.1" height="4.1" stroke="#222" stroke-width="1.1" fill="none" rx="1"/>
<rect x="558.8" y="448.4" width="134.2" height="14" stroke="#111" stroke-width="1.2" fill="none"/>
<rect x="558.8" y="448.4" width="2.3" height="14" fill="#444"/>
<rect x="690.7" y="448.4" width="2.3" height="14" fill="#444"/>
<line x1="565" y1="455.2" x2="688" y2="455.2" stroke="#444" stroke-width="0.8" stroke-dasharray="12 3 2 3"/>
<rect x="563.4" y="459.1" width="12" height="3.3" stroke="#222" stroke-width="1" fill="none"/>
<rect x="676.5" y="459.1" width="12" height="3.3" stroke="#222" stroke-width="1" fill="none"/>
<text x="0" y="0" font-size="9.8" text-anchor="start" fill="#222222" font-family="Liberation Sans" transform="translate(228 31.2)" textLength="4.2" lengthAdjust="spacingAndGlyphs">L</text>
<text x="0" y="0" font-size="7" text-anchor="start" fill="#222222" font-family="Liberation Sans" transform="translate(235 31.2)" textLength="7.2" lengthAdjust="spacingAndGlyphs">tot</text>
<text x="0" y="0" font-size="9" text-anchor="start" fill="#222222" font-family="Liberation Sans" transform="translate(245 31.2)" textLength="4" lengthAdjust="spacingAndGlyphs">=</text>
<text x="0" y="0" font-size="9.8" text-anchor="start" fill="#222222" font-family="Liberation Sans" transform="translate(255.2 31.2)" textLength="5" lengthAdjust="spacingAndGlyphs">S</text>
<text x="0" y="0" font-size="7" text-anchor="start" fill="#222222" font-family="Liberation Sans" transform="translate(263.2 31.2)" textLength="12.6" lengthAdjust="spacingAndGlyphs">max</text>
<text x="0" y="0" font-size="8.5" text-anchor="start" fill="#222222" font-family="Liberation Sans" transform="translate(278.2 31.2)" textLength="4" lengthAdjust="spacingAndGlyphs">+</text>
<text x="0" y="0" font-size="9.8" text-anchor="start" fill="#222222" font-family="Liberation Sans" transform="translate(286 31.2)" textLength="16.8" lengthAdjust="spacingAndGlyphs">440</text>
<text x="0" y="0" font-size="8.5" text-anchor="start" fill="#222222" font-family="Liberation Sans" transform="translate(306.8 31.2)" textLength="4" lengthAdjust="spacingAndGlyphs">+</text>
<text x="0" y="0" font-size="9.8" text-anchor="start" fill="#222222" font-family="Liberation Sans" transform="translate(314 31.2)" textLength="3.8" lengthAdjust="spacingAndGlyphs">L</text>
<text x="0" y="0" font-size="7" text-anchor="start" fill="#222222" font-family="Liberation Sans" transform="translate(320.8 31.2)" textLength="4.8" lengthAdjust="spacingAndGlyphs">A</text>
<text x="0" y="0" font-size="8" text-anchor="start" fill="#222222" font-family="Liberation Sans" transform="translate(330 31.2)" textLength="3.4" lengthAdjust="spacingAndGlyphs">±</text>
<text x="0" y="0" font-size="9.8" text-anchor="start" fill="#222222" font-family="Liberation Sans" transform="translate(335.2 31.2)" textLength="2.6" lengthAdjust="spacingAndGlyphs">1</text>
<text x="0" y="0" font-size="9.8" text-anchor="start" fill="#222222" font-family="Liberation Sans" transform="translate(243.7 48.9)" textLength="5.4" lengthAdjust="spacingAndGlyphs">S</text>
<text x="0" y="0" font-size="7" text-anchor="start" fill="#222222" font-family="Liberation Sans" transform="translate(252.1 48.9)" textLength="13.1" lengthAdjust="spacingAndGlyphs">max</text>
<text x="0" y="0" font-size="8.5" text-anchor="start" fill="#222222" font-family="Liberation Sans" transform="translate(267.1 48.9)" textLength="3.8" lengthAdjust="spacingAndGlyphs">+</text>
<text x="0" y="0" font-size="9.8" text-anchor="start" fill="#222222" font-family="Liberation Sans" transform="translate(276.4 48.9)" textLength="16.8" lengthAdjust="spacingAndGlyphs">240</text>
<text x="0" y="0" font-size="8" text-anchor="start" fill="#222222" font-family="Liberation Sans" transform="translate(298.8 48.9)" textLength="3.3" lengthAdjust="spacingAndGlyphs">±</text>
<text x="0" y="0" font-size="9.8" text-anchor="start" fill="#222222" font-family="Liberation Sans" transform="translate(303.5 48.9)" textLength="3" lengthAdjust="spacingAndGlyphs">1</text>
<text x="0" y="0" font-size="9.8" text-anchor="start" fill="#222222" font-family="Liberation Sans" transform="translate(79.2 49)" textLength="14.8" lengthAdjust="spacingAndGlyphs">105</text>
<text x="0" y="0" font-size="9.8" text-anchor="start" fill="#222222" font-family="Liberation Sans" transform="translate(77.7 67.2)" textLength="11.2" lengthAdjust="spacingAndGlyphs">95</text>
<text x="0" y="0" font-size="9.8" text-anchor="start" fill="#222222" font-family="Liberation Sans" transform="translate(454.8 49)" textLength="10.7" lengthAdjust="spacingAndGlyphs">95</text>
<text x="0" y="0" font-size="9.8" text-anchor="start" fill="#222222" font-family="Liberation Sans" transform="translate(457.8 84.9)" textLength="11.3" lengthAdjust="spacingAndGlyphs">85</text>
<text x="0" y="0" font-size="9.8" text-anchor="middle" fill="#222222" font-family="Liberation Sans" transform="translate(181.9 85) scale(0.92 1)">9</text>
<text x="0" y="0" font-size="9.8" text-anchor="start" fill="#222222" font-family="Liberation Sans" transform="translate(266.9 85.2)" textLength="16.3" lengthAdjust="spacingAndGlyphs">240</text>
<text x="0" y="0" font-size="9.8" text-anchor="start" fill="#222222" font-family="Liberation Sans" transform="translate(75.2 85)" textLength="26" lengthAdjust="spacingAndGlyphs">4x M5</text>
<text x="0" y="0" font-size="9.8" text-anchor="middle" fill="#222222" font-family="Liberation Sans" transform="translate(88 97) scale(0.92 1)">A1</text>
<rect x="68.6" y="169.6" width="5.8" height="5.8" stroke="#333" stroke-width="0.9" fill="none"/>
<text x="0" y="0" font-size="9.8" text-anchor="start" fill="#222222" font-family="Liberation Sans" transform="translate(78.1 175.8)" textLength="9.8" lengthAdjust="spacingAndGlyphs">40</text>
<text x="0" y="0" font-size="9.8" text-anchor="start" fill="#222222" font-family="Liberation Sans" transform="translate(30.1 193.9)" textLength="29.2" lengthAdjust="spacingAndGlyphs">⌀ 47 H7</text>
<text x="0" y="0" font-size="9.8" text-anchor="start" fill="#222222" font-family="Liberation Sans" transform="translate(41.9 204.8)" textLength="11.2" lengthAdjust="spacingAndGlyphs">A2</text>
<text x="0" y="0" font-size="9.8" text-anchor="start" fill="#222222" font-family="Liberation Sans" transform="translate(287.8 187.7)" textLength="11.4" lengthAdjust="spacingAndGlyphs">A3</text>
<text x="0" y="0" font-size="9.8" text-anchor="start" fill="#222222" font-family="Liberation Sans" transform="translate(24.3 144.1) rotate(-90)" textLength="19.9" lengthAdjust="spacingAndGlyphs">55,5</text>
<text x="0" y="0" font-size="9.8" text-anchor="start" fill="#222222" font-family="Liberation Sans" transform="translate(514.4 144.1) rotate(-90)" textLength="19.9" lengthAdjust="spacingAndGlyphs">55,5</text>
<text x="0" y="0" font-size="9.8" text-anchor="start" fill="#222222" font-family="Liberation Sans" transform="translate(573.7 84.9)" textLength="5.3" lengthAdjust="spacingAndGlyphs">6</text>
<text x="0" y="0" font-size="9.8" text-anchor="start" fill="#222222" font-family="Liberation Sans" transform="translate(611 84.9)" textLength="10.7" lengthAdjust="spacingAndGlyphs">76</text>
<text x="0" y="0" font-size="9.8" text-anchor="start" fill="#222222" font-family="Liberation Sans" transform="translate(547 92.7)" textLength="12" lengthAdjust="spacingAndGlyphs">A5</text>
<text x="0" y="0" font-size="9.8" text-anchor="start" fill="#222222" font-family="Liberation Sans" transform="translate(560.1 142) rotate(-90)" textLength="19.3" lengthAdjust="spacingAndGlyphs">59,5</text>
<text x="0" y="0" font-size="9.8" text-anchor="start" fill="#222222" font-family="Liberation Sans" transform="translate(610.9 168.5)" textLength="11.1" lengthAdjust="spacingAndGlyphs">50</text>
<text x="0" y="0" font-size="9.8" text-anchor="middle" fill="#222222" font-family="Liberation Sans" transform="translate(671.9 164.4) rotate(-90) scale(0.92 1)">10</text>
<text x="0" y="0" font-size="9.8" text-anchor="middle" fill="#222222" font-family="Liberation Sans" transform="translate(689.5 146.4) rotate(-90) scale(0.92 1)">17</text>
<text x="0" y="0" font-size="9.8" text-anchor="middle" fill="#222222" font-family="Liberation Sans" transform="translate(707.8 143.2) rotate(-90) scale(0.92 1)">28</text>
<text x="0" y="0" font-size="9.8" text-anchor="middle" fill="#222222" font-family="Liberation Sans" transform="translate(725.4 132.6) rotate(-90) scale(0.92 1)">61</text>
<text x="0" y="0" font-size="9" text-anchor="start" fill="#333" font-family="Liberation Sans" transform="translate(586.9 192)" stroke="#333" stroke-width="0.2" textLength="121.5" lengthAdjust="spacingAndGlyphs">See below for the definition of shafts.</text>
<text x="0" y="0" font-size="10.5" text-anchor="start" fill="#333" font-family="Liberation Sans" transform="translate(604.8 203.8)" stroke="#333" stroke-width="0.3" textLength="16.6" lengthAdjust="spacingAndGlyphs">Left</text>
<text x="0" y="0" font-size="10.5" text-anchor="start" fill="#333" font-family="Liberation Sans" transform="translate(639.7 203.8)" stroke="#333" stroke-width="0.3" textLength="22.4" lengthAdjust="spacingAndGlyphs">Right</text>
<text x="0" y="0" font-size="10.5" text-anchor="start" fill="#333" font-family="Liberation Sans" transform="translate(685.5 203.8)" stroke="#333" stroke-width="0.3" textLength="19.9" lengthAdjust="spacingAndGlyphs">Both</text>
<text x="0" y="0" font-size="9.8" text-anchor="start" fill="#222222" font-family="Liberation Sans" transform="translate(59.6 258.9)" textLength="11.7" lengthAdjust="spacingAndGlyphs">39</text>
<text x="0" y="0" font-size="9.8" text-anchor="start" fill="#222222" font-family="Liberation Sans" transform="translate(127.2 258.9)" textLength="12.4" lengthAdjust="spacingAndGlyphs">60</text>
<text x="0" y="0" font-size="9.8" text-anchor="start" fill="#222222" font-family="Liberation Sans" transform="translate(171.2 240.8)" textLength="31.3" lengthAdjust="spacingAndGlyphs">8x M5</text>
<text x="0" y="0" font-size="9.8" text-anchor="start" fill="#222222" font-family="Liberation Sans" transform="translate(184 251)" textLength="10.6" lengthAdjust="spacingAndGlyphs">A1</text>
<text x="0" y="0" font-size="9.8" text-anchor="middle" fill="#222222" font-family="Liberation Sans" transform="translate(275 240.2) scale(0.92 1)">60</text>
<text x="0" y="0" font-size="9.8" text-anchor="start" fill="#222222" font-family="Liberation Sans" transform="translate(254.7 259)" textLength="29.3" lengthAdjust="spacingAndGlyphs">4x M6</text>
<text x="0" y="0" font-size="9.8" text-anchor="middle" fill="#222222" font-family="Liberation Sans" transform="translate(267.7 269.5) scale(0.92 1)">A1</text>
<text x="0" y="0" font-size="9.8" text-anchor="middle" fill="#222222" font-family="Liberation Sans" transform="translate(376.2 258.5) scale(0.92 1)">(500)</text>
<text x="0" y="0" font-size="9.8" text-anchor="middle" fill="#222222" font-family="Liberation Sans" transform="translate(416.7 258.5) scale(0.92 1)">60</text>
<text x="0" y="0" font-size="9.8" text-anchor="middle" fill="#222222" font-family="Liberation Sans" transform="translate(471.8 249) scale(0.92 1)">A4</text>
<text x="0" y="0" font-size="9.8" text-anchor="middle" fill="#222222" font-family="Liberation Sans" transform="translate(230.9 313.2) rotate(-90) scale(0.92 1)">50</text>
<text x="0" y="0" font-size="9.8" text-anchor="middle" fill="#222222" font-family="Liberation Sans" transform="translate(324.1 313) rotate(-90) scale(0.92 1)">40</text>
<text x="0" y="0" font-size="9.8" text-anchor="middle" fill="#222222" font-family="Liberation Sans" transform="translate(514.6 312.9) rotate(-90) scale(0.92 1)">64</text>
<text x="0" y="0" font-size="9.8" text-anchor="middle" fill="#222222" font-family="Liberation Sans" transform="translate(533.7 312.9) rotate(-90) scale(0.92 1)">78</text>
<text x="0" y="0" font-size="9.8" text-anchor="middle" fill="#222222" font-family="Liberation Sans" transform="translate(26.8 336) rotate(-90) scale(0.92 1)">25</text>
<text x="0" y="0" font-size="9.8" text-anchor="start" fill="#222222" font-family="Liberation Sans" transform="translate(91.3 368.2)" textLength="28.6" lengthAdjust="spacingAndGlyphs">⌀12 h6</text>
<text x="0" y="0" font-size="9.8" text-anchor="middle" fill="#222222" font-family="Liberation Sans" transform="translate(275 368.6) scale(0.92 1)">64</text>
<text x="0" y="0" font-size="9.8" text-anchor="middle" fill="#222222" font-family="Liberation Sans" transform="translate(275 386.4) scale(0.92 1)">94</text>
<text x="0" y="0" font-size="9.8" text-anchor="middle" fill="#222222" font-family="Liberation Sans" transform="translate(275 404.7) scale(0.92 1)">192</text>
<text x="0" y="0" font-size="9.8" text-anchor="middle" fill="#222222" font-family="Liberation Sans" transform="translate(416.6 368.6) scale(0.92 1)">40</text>
<text x="0" y="0" font-size="9.8" text-anchor="middle" fill="#222222" font-family="Liberation Sans" transform="translate(416.6 386.4) scale(0.92 1)">54</text>
<text x="0" y="0" font-size="10.2" text-anchor="start" fill="#1a1a1a" font-family="Liberation Sans" transform="translate(34.9 430.1)" stroke="#1a1a1a" stroke-width="0.22" textLength="57.1" lengthAdjust="spacingAndGlyphs">A1: depth 10</text>
<text x="0" y="0" font-size="10.2" text-anchor="start" fill="#1a1a1a" font-family="Liberation Sans" transform="translate(34.9 442.8)" stroke="#1a1a1a" stroke-width="0.22" textLength="51.4" lengthAdjust="spacingAndGlyphs">A2: depth 3</text>
<text x="0" y="0" font-size="10.2" text-anchor="start" fill="#1a1a1a" font-family="Liberation Sans" transform="translate(34.9 455.7)" stroke="#1a1a1a" stroke-width="0.22" textLength="238.5" lengthAdjust="spacingAndGlyphs">A3: funnel type lubricating nipple DIN3405-M6×1-D1</text>
<text x="0" y="0" font-size="10.2" text-anchor="start" fill="#1a1a1a" font-family="Liberation Sans" transform="translate(34.9 468.4)" stroke="#1a1a1a" stroke-width="0.22" textLength="184.1" lengthAdjust="spacingAndGlyphs">A4: socket cap screw ISO4762-M5×12 8.8</text>
<text x="0" y="0" font-size="10.2" text-anchor="start" fill="#1a1a1a" font-family="Liberation Sans" transform="translate(34.9 481.4)" stroke="#1a1a1a" stroke-width="0.22" textLength="140.8" lengthAdjust="spacingAndGlyphs">A5: ENF inductive sensor rail kit</text>
<text x="0" y="0" font-size="10.2" text-anchor="start" fill="#1a1a1a" font-family="Liberation Sans" transform="translate(532.9 387.5)" stroke="#1a1a1a" stroke-width="0.22" textLength="208.5" lengthAdjust="spacingAndGlyphs">Only one carriage is shown in the detail views.</text>
<text x="0" y="0" font-size="10.2" text-anchor="start" fill="#1a1a1a" font-family="Liberation Sans" transform="translate(532.9 400.7)" stroke="#1a1a1a" stroke-width="0.22" textLength="200.8" lengthAdjust="spacingAndGlyphs">The second carriage will be spaced as below.</text>
<text x="0" y="0" font-size="9.8" text-anchor="start" fill="#222222" font-family="Liberation Sans" transform="translate(620.3 417) scale(0.92 1)">L<tspan font-size="7" dx="3">A</tspan></text>
</svg>
</body></html>
